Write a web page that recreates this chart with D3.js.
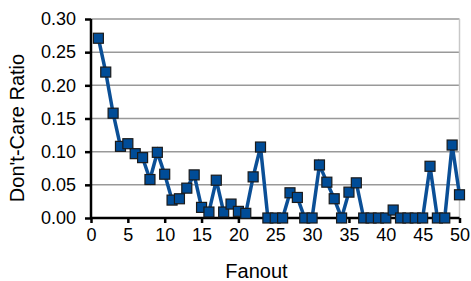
<!DOCTYPE html>
<html><head><meta charset="utf-8">
<script src="https://cdn.jsdelivr.net/npm/d3@7"></script>
<style>body{margin:0;background:#fff}svg{display:block}text{font-family:"Liberation Sans",Arial,sans-serif;fill:#000}</style>
</head><body><svg id="c" width="471" height="281"></svg>
<script>
const fanout = d3.range(1, 51);
const ratio = [0.271,0.220,0.158,0.108,0.112,0.097,0.091,0.058,0.099,0.066,
               0.027,0.029,0.045,0.065,0.016,0.009,0.057,0.009,0.021,0.010,
               0.007,0.062,0.107,0,0,0,0.038,0.031,0,0,
               0.080,0.054,0.029,0,0.039,0.053,0,0,0,0,
               0.012,0,0,0,0,0.078,0,0,0.110,0.035];
const xTicks = [0,5,10,15,20,25,30,35,40,45,50];
const yTicks = [0,0.05,0.10,0.15,0.20,0.25,0.30];

const svg = d3.select("#c");
const L = 91, R = 459.5, T = 19, B = 218;
const x = d3.scaleLinear().domain([0,50]).range([L,R]);
const y = d3.scaleLinear().domain([0,0.30]).range([B,T]);

// gridlines
svg.append("g").selectAll("line").data(yTicks.filter(d=>d>0)).join("line")
  .attr("x1",L).attr("x2",R).attr("y1",d=>y(d)).attr("y2",d=>y(d))
  .attr("stroke","#999").attr("stroke-width",1.5);
// right border
svg.append("line").attr("x1",R).attr("x2",R).attr("y1",T).attr("y2",B)
  .attr("stroke","#c8c8c8").attr("stroke-width",1.5);

// axes
const xa = svg.append("g").attr("transform",`translate(0,${B})`)
  .call(d3.axisBottom(x).tickValues(xTicks).tickSize(5).tickPadding(5).tickFormat(d3.format("d")));
const ya = svg.append("g").attr("transform",`translate(${L},0)`)
  .call(d3.axisLeft(y).tickValues(yTicks).tickSize(6).tickPadding(9).tickFormat(d3.format(".2f")));
[xa,ya].forEach(a=>{
  a.select(".domain").attr("stroke","#000").attr("stroke-width",2.5);
  a.selectAll(".tick line").attr("stroke","#000").attr("stroke-width",2.5);
  a.selectAll("text").style("font-size","18px").attr("fill","#000");
});
ya.select(".domain").attr("d",`M0,${T}V${B}`);
xa.select(".domain").attr("d",`M${L},0H${R}`);

// line
svg.append("path").datum(fanout.map((f,i)=>[f,ratio[i]]))
  .attr("fill","none").attr("stroke","#0b4f96").attr("stroke-width",3.5)
  .attr("stroke-linejoin","miter")
  .attr("d",d3.line().x(d=>x(d[0])).y(d=>y(d[1])));

// markers
svg.append("g").selectAll("rect").data(fanout.map((f,i)=>[f,ratio[i]])).join("rect")
  .attr("x",d=>x(d[0])-5).attr("y",d=>y(d[1])-5).attr("width",10).attr("height",10)
  .attr("fill","#004c97").attr("stroke","#1a1a1a").attr("stroke-width",1.2);

// titles
svg.append("text").attr("x",256.5).attr("y",278).attr("text-anchor","middle")
  .style("font-size","20px").text("Fanout");
svg.append("text").attr("transform",`translate(24,128) rotate(-90)`).attr("text-anchor","middle")
  .style("font-size","20px").text("Don't-Care Ratio");
</script></body></html>
